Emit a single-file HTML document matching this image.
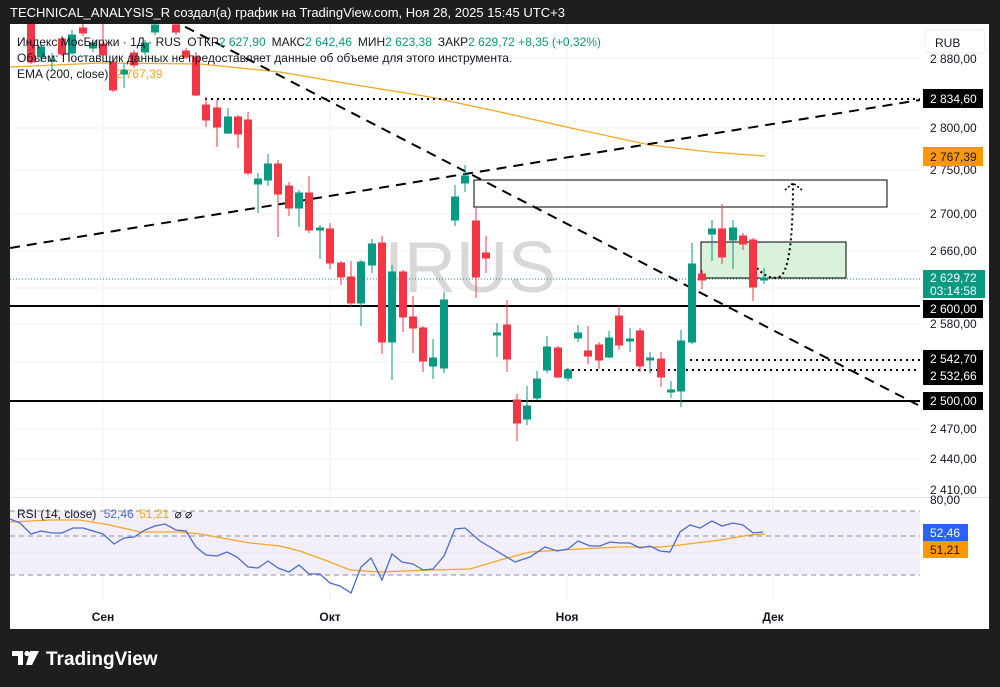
<!DOCTYPE html>
<html><head><meta charset="utf-8"><style>
html,body{margin:0;padding:0;background:#1e1e1e;}
svg{display:block;font-family:"Liberation Sans","DejaVu Sans",sans-serif;}
</style></head><body>
<svg width="1000" height="687" viewBox="0 0 1000 687" xmlns="http://www.w3.org/2000/svg">
<rect x="0" y="0" width="1000" height="687" fill="#1e1e1e"/>
<text x="10" y="17" fill="#fff" font-size="13">TECHNICAL_ANALYSIS_R создал(а) график на TradingView.com, Ноя 28, 2025 15:45 UTC+3</text>
<rect x="10" y="24" width="979" height="605" fill="#fff"/>
<defs><clipPath id="cp"><rect x="10" y="24" width="910" height="473"/></clipPath>
<clipPath id="cr"><rect x="10" y="498" width="910" height="100"/></clipPath></defs>
<g stroke="#f0f0f3" stroke-width="1">
<line x1="10" y1="58" x2="920" y2="58"/><line x1="10" y1="128" x2="920" y2="128"/><line x1="10" y1="170" x2="920" y2="170"/><line x1="10" y1="214" x2="920" y2="214"/><line x1="10" y1="251" x2="920" y2="251"/><line x1="10" y1="288" x2="920" y2="288"/><line x1="10" y1="324" x2="920" y2="324"/><line x1="10" y1="362" x2="920" y2="362"/><line x1="10" y1="429" x2="920" y2="429"/><line x1="10" y1="459" x2="920" y2="459"/><line x1="10" y1="489" x2="920" y2="489"/>
<line x1="103" y1="24" x2="103" y2="600"/><line x1="330" y1="24" x2="330" y2="600"/><line x1="567" y1="24" x2="567" y2="600"/><line x1="773" y1="24" x2="773" y2="600"/>
</g>
<line x1="10" y1="497.5" x2="989" y2="497.5" stroke="#e0e3eb"/>
<text x="470" y="292" font-size="72" fill="#d8d8d8" text-anchor="middle">IRUS</text>
<g clip-path="url(#cp)">
<polyline fill="none" stroke="#f5a623" stroke-width="1.3" points="10,67 100,63 200,64 280,72 350,84 430,97 500,112 580,130 650,145 710,152 765,156"/>
<line x1="10" y1="279" x2="920" y2="279" stroke="#089981" stroke-dasharray="1,2"/>
<line x1="10" y1="306" x2="920" y2="306" stroke="#000" stroke-width="2"/>
<line x1="10" y1="401" x2="920" y2="401" stroke="#000" stroke-width="2"/>
<line x1="205" y1="99" x2="920" y2="99" stroke="#000" stroke-width="2" stroke-dasharray="2,4"/>
<line x1="690" y1="360" x2="920" y2="360" stroke="#000" stroke-width="2" stroke-dasharray="2,4"/>
<line x1="566" y1="370" x2="920" y2="370" stroke="#000" stroke-width="2" stroke-dasharray="2,4"/>
<line x1="10" y1="248" x2="920" y2="100" stroke="#000" stroke-width="2" stroke-dasharray="10,7"/>
<line x1="170" y1="19" x2="918" y2="405" stroke="#000" stroke-width="2" stroke-dasharray="10,7"/>
<rect x="474" y="180" width="413" height="27" fill="none" stroke="#000" stroke-width="1"/>
<rect x="701" y="242" width="145" height="36" fill="#d6efd6" fill-opacity="0.9" stroke="#000" stroke-width="1"/>
<path d="M757,268 Q770,282 781,276 Q793,265 793,183" fill="none" stroke="#000" stroke-width="2" stroke-dasharray="2,3"/>
<path d="M785,190 L793,183 L802,190" fill="none" stroke="#000" stroke-width="1.5" stroke-dasharray="2,2"/>
<g>
<g fill="#f23645" stroke="#f23645">
<line x1="31" y1="24" x2="31" y2="64"/><rect x="27.5" y="24" width="7" height="38"/>
<line x1="62" y1="36" x2="62" y2="56"/><rect x="58.5" y="39" width="7" height="15"/>
<line x1="83" y1="24" x2="83" y2="36"/><rect x="79.5" y="28" width="7" height="5"/>
<line x1="103" y1="24" x2="103" y2="58"/><rect x="99.5" y="44" width="7" height="11"/>
<line x1="113" y1="58" x2="113" y2="92"/><rect x="109.5" y="62" width="7" height="28"/>
<line x1="134" y1="50" x2="134" y2="68"/><rect x="130.5" y="53" width="7" height="12"/>
<line x1="176" y1="24" x2="176" y2="35"/><rect x="172.5" y="25" width="7" height="7"/>
<line x1="186" y1="48" x2="186" y2="59"/><rect x="182.5" y="51" width="7" height="6"/>
<line x1="196" y1="52" x2="196" y2="96"/><rect x="192.5" y="57" width="7" height="38"/>
<line x1="206" y1="97" x2="206" y2="127"/><rect x="202.5" y="105" width="7" height="15"/>
<line x1="217" y1="100" x2="217" y2="147"/><rect x="213.5" y="108" width="7" height="19"/>
<line x1="238" y1="115" x2="238" y2="148"/><rect x="234.5" y="117" width="7" height="17"/>
<line x1="248" y1="112" x2="248" y2="175"/><rect x="244.5" y="120" width="7" height="53"/>
<line x1="278" y1="160" x2="278" y2="237"/><rect x="274.5" y="164" width="7" height="30"/>
<line x1="289" y1="182" x2="289" y2="216"/><rect x="285.5" y="186" width="7" height="22"/>
<line x1="309" y1="176" x2="309" y2="233"/><rect x="305.5" y="193" width="7" height="37"/>
<line x1="330" y1="223" x2="330" y2="269"/><rect x="326.5" y="229" width="7" height="34"/>
<line x1="341" y1="261" x2="341" y2="285"/><rect x="337.5" y="263" width="7" height="14"/>
<line x1="351" y1="261" x2="351" y2="306"/><rect x="347.5" y="277" width="7" height="26"/>
<line x1="382" y1="236" x2="382" y2="354"/><rect x="378.5" y="243" width="7" height="99"/>
<line x1="403" y1="270" x2="403" y2="332"/><rect x="399.5" y="272" width="7" height="45"/>
<line x1="413" y1="296" x2="413" y2="353"/><rect x="409.5" y="317" width="7" height="11"/>
<line x1="423" y1="326" x2="423" y2="372"/><rect x="419.5" y="328" width="7" height="33"/>
<line x1="476" y1="207" x2="476" y2="298"/><rect x="472.5" y="221" width="7" height="56"/>
<line x1="486" y1="236" x2="486" y2="273"/><rect x="482.5" y="253" width="7" height="5"/>
<line x1="507" y1="300" x2="507" y2="372"/><rect x="503.5" y="325" width="7" height="34"/>
<line x1="517" y1="394" x2="517" y2="441"/><rect x="513.5" y="400" width="7" height="23"/>
<line x1="558" y1="346" x2="558" y2="378"/><rect x="554.5" y="348" width="7" height="29"/>
<line x1="588" y1="326" x2="588" y2="364"/><rect x="584.5" y="351" width="7" height="5"/>
<line x1="599" y1="342" x2="599" y2="369"/><rect x="595.5" y="345" width="7" height="15"/>
<line x1="619" y1="306" x2="619" y2="350"/><rect x="615.5" y="316" width="7" height="29"/>
<line x1="640" y1="328" x2="640" y2="372"/><rect x="636.5" y="331" width="7" height="35"/>
<line x1="661" y1="352" x2="661" y2="387"/><rect x="657.5" y="359" width="7" height="18"/>
<line x1="702" y1="270" x2="702" y2="289"/><rect x="698.5" y="274" width="7" height="6"/>
<line x1="722" y1="204" x2="722" y2="264"/><rect x="718.5" y="229" width="7" height="28"/>
<line x1="743" y1="233" x2="743" y2="250"/><rect x="739.5" y="236" width="7" height="8"/>
<line x1="753" y1="238" x2="753" y2="301"/><rect x="749.5" y="240" width="7" height="47"/>
</g>
<g fill="#089981" stroke="#089981">
<line x1="41" y1="44" x2="41" y2="62"/><rect x="37.5" y="47" width="7" height="10"/>
<line x1="52" y1="53" x2="52" y2="70"/><rect x="48.5" y="60" width="7" height="1"/>
<line x1="72" y1="30" x2="72" y2="55"/><rect x="68.5" y="35" width="7" height="18"/>
<line x1="93" y1="40" x2="93" y2="52"/><rect x="89.5" y="43" width="7" height="5"/>
<line x1="124" y1="63" x2="124" y2="88"/><rect x="120.5" y="70" width="7" height="4"/>
<line x1="145" y1="40" x2="145" y2="55"/><rect x="141.5" y="43" width="7" height="9"/>
<line x1="155" y1="24" x2="155" y2="35"/><rect x="151.5" y="25" width="7" height="7"/>
<line x1="228" y1="108" x2="228" y2="134"/><rect x="224.5" y="117" width="7" height="16"/>
<line x1="258" y1="173" x2="258" y2="213"/><rect x="254.5" y="179" width="7" height="5"/>
<line x1="268" y1="154" x2="268" y2="186"/><rect x="264.5" y="164" width="7" height="16"/>
<line x1="299" y1="190" x2="299" y2="227"/><rect x="295.5" y="193" width="7" height="15"/>
<line x1="320" y1="225" x2="320" y2="259"/><rect x="316.5" y="228" width="7" height="2"/>
<line x1="361" y1="260" x2="361" y2="326"/><rect x="357.5" y="262" width="7" height="41"/>
<line x1="372" y1="239" x2="372" y2="273"/><rect x="368.5" y="244" width="7" height="21"/>
<line x1="392" y1="265" x2="392" y2="380"/><rect x="388.5" y="272" width="7" height="70"/>
<line x1="433" y1="339" x2="433" y2="379"/><rect x="429.5" y="358" width="7" height="8"/>
<line x1="444" y1="292" x2="444" y2="373"/><rect x="440.5" y="300" width="7" height="68"/>
<line x1="455" y1="185" x2="455" y2="226"/><rect x="451.5" y="197" width="7" height="23"/>
<line x1="465" y1="165" x2="465" y2="192"/><rect x="461.5" y="176" width="7" height="7"/>
<line x1="497" y1="323" x2="497" y2="357"/><rect x="493.5" y="333" width="7" height="2"/>
<line x1="527" y1="386" x2="527" y2="425"/><rect x="523.5" y="406" width="7" height="13"/>
<line x1="537" y1="371" x2="537" y2="400"/><rect x="533.5" y="379" width="7" height="19"/>
<line x1="547" y1="336" x2="547" y2="373"/><rect x="543.5" y="347" width="7" height="23"/>
<line x1="568" y1="368" x2="568" y2="381"/><rect x="564.5" y="370" width="7" height="8"/>
<line x1="578" y1="325" x2="578" y2="342"/><rect x="574.5" y="333" width="7" height="5"/>
<line x1="609" y1="331" x2="609" y2="358"/><rect x="605.5" y="338" width="7" height="19"/>
<line x1="630" y1="328" x2="630" y2="352"/><rect x="626.5" y="339" width="7" height="2"/>
<line x1="650" y1="352" x2="650" y2="373"/><rect x="646.5" y="358" width="7" height="2"/>
<line x1="671" y1="381" x2="671" y2="398"/><rect x="667.5" y="390" width="7" height="2"/>
<line x1="681" y1="330" x2="681" y2="407"/><rect x="677.5" y="341" width="7" height="50"/>
<line x1="692" y1="243" x2="692" y2="344"/><rect x="688.5" y="264" width="7" height="78"/>
<line x1="712" y1="220" x2="712" y2="261"/><rect x="708.5" y="229" width="7" height="5"/>
<line x1="733" y1="220" x2="733" y2="269"/><rect x="729.5" y="228" width="7" height="12"/>
<line x1="764" y1="268" x2="764" y2="284"/><rect x="760.5" y="278" width="7" height="2"/>
</g>
</g>
</g>
<g font-size="12" fill="#131722">
<text x="17" y="46">Индекс МосБиржи · 1Д · RUS <tspan dx="3">ОТКР</tspan><tspan fill="#089981">2 627,90</tspan><tspan dx="6">МАКС</tspan><tspan fill="#089981">2 642,46</tspan><tspan dx="6">МИН</tspan><tspan fill="#089981">2 623,38</tspan><tspan dx="6">ЗАКР</tspan><tspan fill="#089981">2 629,72 +8,35 (+0,32%)</tspan></text>
<text x="17" y="62">Объём: Поставщик данных не предоставляет данные об объеме для этого инструмента.</text>
<text x="17" y="78">EMA (200, close) <tspan fill="#f5a623" dx="4">2 767,39</tspan></text>
</g>
<rect x="10" y="511" width="910" height="64" fill="#f3effa"/>
<line x1="10" y1="553" x2="920" y2="553" stroke="#e6e3ee"/>
<g stroke="#8c8c96" stroke-dasharray="5,4">
<line x1="10" y1="511" x2="920" y2="511"/><line x1="10" y1="536" x2="920" y2="536"/><line x1="10" y1="575" x2="920" y2="575"/>
</g>
<g clip-path="url(#cr)">
<polyline fill="none" stroke="#f5a623" stroke-width="1.3" points="10,522 50,520 80,520 110,525 140,532 180,532 200,534 250,543 280,546 300,551 330,562 350,570 380,572 430,570 470,569 500,560 530,552 580,549 620,547 660,547 680,545 720,540 750,535 765,534"/>
<polyline fill="none" stroke="#4a6bd0" stroke-width="1.3" points="10,519 20,523 31,534 41,531 52,533 62,533 73,528 83,528 93,531 103,534 114,544 124,538 134,537 145,530 155,526 165,524 176,530 186,531 196,547 206,555 217,556 227,552 237,557 248,567 258,568 268,561 278,568 289,572 299,565 309,574 320,574 330,583 340,586 351,593 361,567 371,558 382,580 392,554 402,562 413,564 423,570 433,569 444,556 455,529 465,528 480,541 495,550 515,562 530,557 545,547 557,551 568,549 578,541 590,546 600,546 610,542 620,543 630,543 640,548 650,546 660,551 670,552 680,532 690,525 700,528 712,521 722,526 733,523 743,525 753,533 763,532"/>
</g>
<text x="17" y="518" font-size="12" fill="#131722">RSI (14, close) <tspan fill="#4a6bd0" dx="4">52,46</tspan> <tspan fill="#f5a623" dx="2">51,21</tspan> <tspan dx="2">⌀ ⌀</tspan></text>
<g font-size="12" font-weight="bold" fill="#131722" text-anchor="middle">
<text x="103" y="621">Сен</text><text x="330" y="621">Окт</text><text x="567" y="621">Ноя</text><text x="773" y="621">Дек</text>
</g>
<rect x="925" y="30" width="60" height="23" rx="4" fill="#fff" stroke="#eee"/>
<text x="935" y="47" font-size="12" fill="#131722">RUB</text>
<g font-size="12" fill="#131722">
<text x="930" y="63">2 880,00</text><text x="930" y="132">2 800,00</text><text x="930" y="174">2 750,00</text><text x="930" y="218">2 700,00</text><text x="930" y="255">2 660,00</text><text x="930" y="328">2 580,00</text><text x="930" y="433">2 470,00</text><text x="930" y="463">2 440,00</text><text x="930" y="494">2 410,00</text><text x="930" y="504">80,00</text>
</g>
<rect x="923" y="89" width="60" height="19" fill="#000"/><text x="930" y="103" font-size="12" fill="#fff">2 834,60</text>
<rect x="923" y="147" width="60" height="19" fill="#ff9800"/><text x="930" y="161" font-size="12" fill="#131722">2 767,39</text>
<rect x="923" y="270" width="62" height="28" fill="#089981"/><text x="930" y="282" font-size="12" fill="#fff">2 629,72</text><text x="930" y="295" font-size="12" fill="#fff">03:14:58</text>
<rect x="923" y="300" width="60" height="18" fill="#000"/><text x="930" y="313" font-size="12" fill="#fff">2 600,00</text>
<rect x="923" y="350" width="60" height="18" fill="#000"/><text x="930" y="363" font-size="12" fill="#fff">2 542,70</text>
<rect x="923" y="367" width="60" height="18" fill="#000"/><text x="930" y="380" font-size="12" fill="#fff">2 532,66</text>
<rect x="923" y="392" width="60" height="18" fill="#000"/><text x="930" y="405" font-size="12" fill="#fff">2 500,00</text>
<rect x="923" y="524" width="45" height="17" fill="#2962ff"/><text x="930" y="537" font-size="12" fill="#fff">52,46</text>
<rect x="923" y="541" width="45" height="17" fill="#ff9800"/><text x="930" y="554" font-size="12" fill="#131722">51,21</text>
<g fill="#fff">
<path d="M12,651 h11 v14 h-5 v-9 h-6 z"/><circle cx="27" cy="653.5" r="2.6"/><path d="M30,651 h9 l-7,14 h-6 z"/>
<text x="46" y="665" font-size="19" font-weight="bold">TradingView</text>
</g>
</svg>
</body></html>
